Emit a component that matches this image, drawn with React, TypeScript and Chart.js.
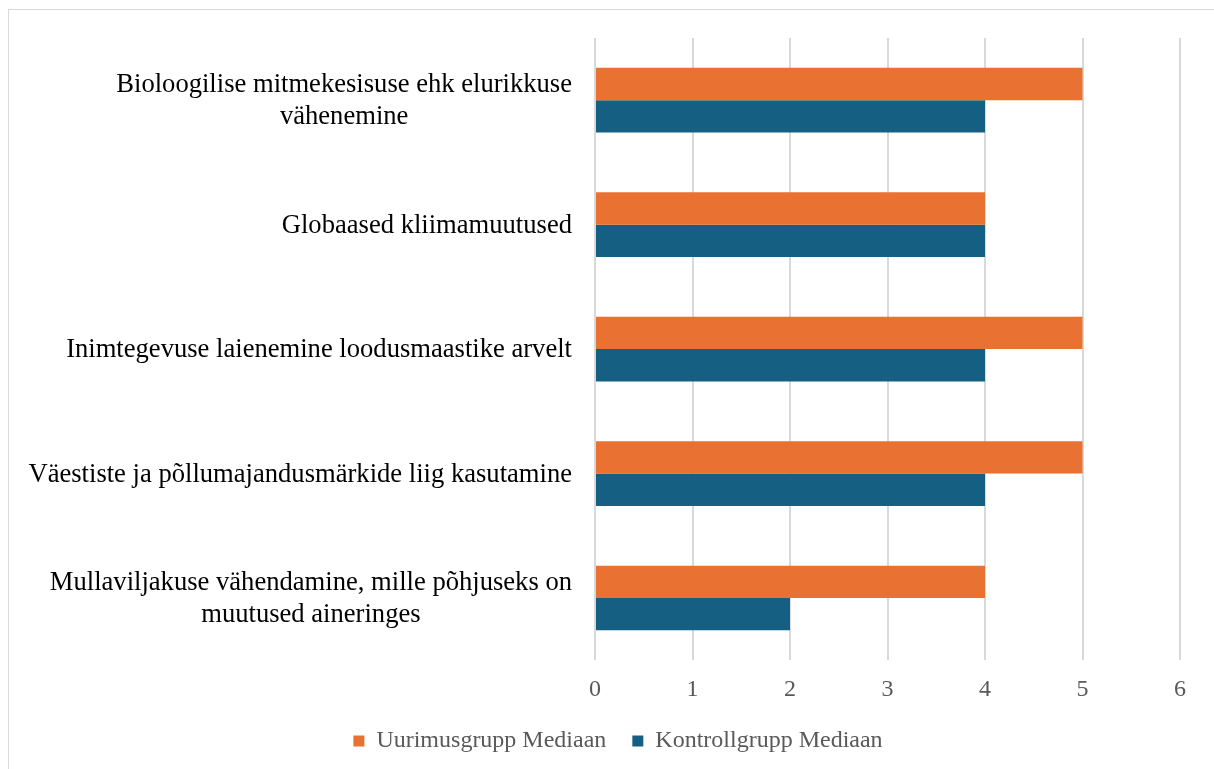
import React, { useEffect, useRef } from "react";
import { Chart, registerables } from "chart.js";

Chart.register(...registerables);

const categories: string[][] = [
  ["Bioloogilise mitmekesisuse ehk elurikkuse", "vähenemine"],
  ["Globaased kliimamuutused"],
  ["Inimtegevuse laienemine loodusmaastike arvelt"],
  ["Väestiste ja põllumajandusmärkide liig kasutamine"],
  ["Mullaviljakuse vähendamine, mille põhjuseks on", "muutused aineringes"],
];
const uurimusgrupp: number[] = [5, 4, 5, 5, 4];
const kontrollgrupp: number[] = [4, 4, 4, 4, 2];
const seriesNames: string[] = ["Uurimusgrupp Mediaan", "Kontrollgrupp Mediaan"];

const FONT = "'Liberation Serif', 'Times New Roman', serif";

const labelPlugin = {
  id: "catLabels",
  beforeDraw(chart: any) {
    const ctx = chart.ctx;
    ctx.save();
    ctx.strokeStyle = "#d9d9d9";
    ctx.lineWidth = 1;
    ctx.strokeRect(8.5, 9.5, chart.width + 10, chart.height + 10);
    ctx.restore();
  },
  afterDraw(chart: any) {
    const ctx = chart.ctx;
    const y = chart.scales.y;
    const right = 572;
    const lh = 32;
    ctx.save();
    ctx.font = `26.6px ${FONT}`;
    ctx.fillStyle = "#000000";
    ctx.textAlign = "center";
    ctx.textBaseline = "middle";
    categories.forEach((lines, i) => {
      const cy = y.getPixelForValue(i) + 1;
      const maxW = Math.max(...lines.map((l) => ctx.measureText(l).width));
      const cx = right - maxW / 2;
      const top = cy - ((lines.length - 1) * lh) / 2;
      lines.forEach((l, j) => ctx.fillText(l, cx, top + j * lh));
    });
    ctx.restore();
  },
};

export default function App() {
  const ref = useRef<HTMLCanvasElement>(null);
  useEffect(() => {
    if (!ref.current) return;
    const chart = new Chart(ref.current, {
      type: "bar",
      data: {
        labels: categories.map((c) => c.join(" ")),
        datasets: [
          {
            label: seriesNames[0],
            data: uurimusgrupp,
            backgroundColor: "#E97132",
            categoryPercentage: 0.52,
            barPercentage: 1,
          },
          {
            label: seriesNames[1],
            data: kontrollgrupp,
            backgroundColor: "#156082",
            categoryPercentage: 0.52,
            barPercentage: 1,
          },
        ],
      },
      options: {
        indexAxis: "y",
        animation: false,
        responsive: false,
        maintainAspectRatio: false,
        layout: { padding: { left: 56, right: 34, top: 38, bottom: 6 } },
        scales: {
          x: {
            min: 0,
            max: 6,
            ticks: {
              stepSize: 1,
              color: "#595959",
              font: { family: FONT, size: 24 },
              padding: 15,
            },
            grid: { color: "#d9d9d9", lineWidth: 2, drawTicks: false },
            border: { display: false },
            afterFit: (s: any) => {
              s.height = s.height - 16;
            },
          },
          y: {
            display: true,
            ticks: { display: false },
            grid: { display: false },
            border: { display: false },
            afterFit: (s: any) => {
              s.width = 539;
            },
          },
        },
        plugins: {
          legend: {
            position: "bottom",
            labels: {
              boxWidth: 11,
              boxHeight: 11,
              color: "#595959",
              font: { family: FONT, size: 24 },
              padding: 26,
            },
          },
          tooltip: { enabled: false },
        },
      },
      plugins: [labelPlugin],
    });
    return () => chart.destroy();
  }, []);
  return (
    <div style={{ position: "fixed", left: 0, top: 0, width: 1214, height: 769, background: "#fff" }}>
      <canvas ref={ref} width={1214} height={769} style={{ display: "block" }} />
    </div>
  );
}
